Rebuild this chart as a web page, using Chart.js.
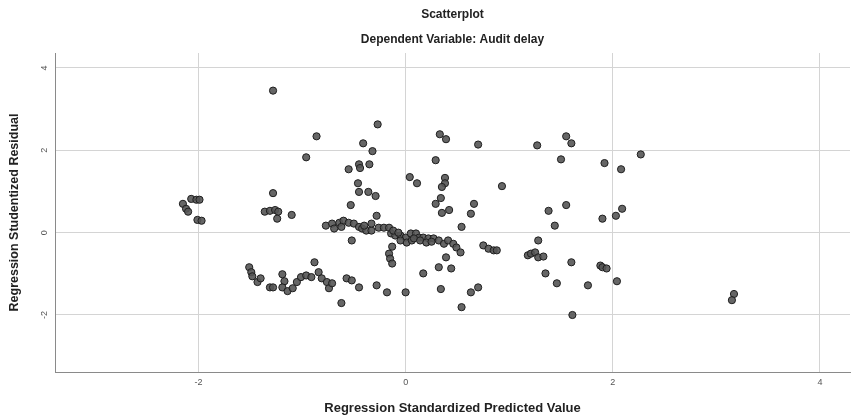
<!DOCTYPE html>
<html>
<head>
<meta charset="utf-8">
<script src="https://cdn.jsdelivr.net/npm/chart.js@4/dist/chart.umd.min.js"></script>
<style>
  html, body { margin: 0; padding: 0; background: #fff; }
  #wrap { width: 855px; height: 416px; }
</style>
</head>
<body>
<div id="wrap"><canvas id="scatter" width="855" height="416"></canvas></div>
<script>
// Regression Standardized Predicted Value (x)
const predicted = [
  -2.15, -2.12, -2.10, -2.07, -2.02, -1.99, -2.01, -1.97,
  -1.28, -1.28, -1.36, -1.31, -1.26, -1.23, -1.24, -1.10, -0.86, -0.96,
  -1.51, -1.49, -1.48, -1.43, -1.40, -1.31, -1.28, -1.19, -1.17, -1.19, -1.14, -1.09, -1.05, -1.01, -0.96,
  -0.91, -0.88, -0.84, -0.81, -0.76, -0.74, -0.71, -0.62, -0.57, -0.52, -0.45, -0.28, -0.18, 0.00,
  0.17, 0.32, 0.44, 0.34, 0.39, 0.54, 0.63, 0.70,
  -0.77, -0.71, -0.69, -0.64, -0.60, -0.55, -0.50, -0.45, -0.42, -0.38, -0.33, -0.33, -0.26, -0.21, -0.16,
  -0.14, -0.10, -0.05, 0.00, 0.05, 0.10, 0.13, 0.17, 0.22, 0.27, 0.32, 0.37, 0.41, 0.46, 0.49, 0.53,
  0.01, 0.06, -0.05, -0.52, -0.28, -0.13, -0.16, -0.15, -0.13, 0.75, 0.80, 0.85, 0.88,
  -0.62, -0.40, -0.12, -0.07, 0.08, 0.14, 0.20, 0.25,
  -0.27, -0.41, -0.32, -0.55, -0.45, -0.44, -0.35, -0.46, -0.45, -0.36, -0.29, -0.53,
  0.33, 0.39, 0.70, 0.29, 0.04, 0.11, 0.38, 0.38, 0.35, 0.34, 0.29, 0.35, 0.42, 0.66, 0.63, 0.54, 0.93,
  1.27, 1.55, 1.60, 1.50, 1.92, 2.08, 2.27, 1.38, 1.55, 1.44, 1.90, 2.03, 2.09,
  1.18, 1.21, 1.25, 1.28, 1.33, 1.28, 1.35, 1.46, 1.60, 1.76, 1.61, 1.88, 1.90, 1.94, 2.04,
  3.17, 3.15
];

// Regression Studentized Residual (y)
const residual = [
  0.70, 0.58, 0.51, 0.82, 0.80, 0.80, 0.31, 0.29,
  3.45, 0.96, 0.51, 0.53, 0.55, 0.51, 0.34, 0.43, 2.34, 1.83,
  -0.84, -0.96, -1.06, -1.20, -1.11, -1.33, -1.33, -1.01, -1.18, -1.33, -1.42, -1.35, -1.20, -1.08, -1.04,
  -1.08, -0.72, -0.96, -1.11, -1.20, -1.35, -1.23, -1.71, -1.11, -1.16, -1.33, -1.28, -1.45, -1.45,
  -0.99, -0.84, -0.87, -1.37, -0.60, -1.81, -1.45, -1.33,
  0.17, 0.22, 0.10, 0.24, 0.29, 0.24, 0.22, 0.14, 0.10, 0.05, 0.05, 0.22, 0.12, 0.12, 0.12,
  -0.02, -0.07, -0.07, -0.12, -0.02, -0.02, -0.12, -0.12, -0.14, -0.14, -0.19, -0.27, -0.19, -0.27, -0.36, -0.48,
  -0.24, -0.19, -0.19, -0.19, 0.41, -0.34, -0.51, -0.63, -0.75, -0.31, -0.39, -0.43, -0.43,
  0.14, 0.17, 0.05, 0.00, -0.14, -0.19, -0.24, -0.22,
  2.63, 2.17, 1.98, 1.54, 1.66, 1.57, 1.66, 1.20, 0.99, 0.99, 0.89, 0.67,
  2.39, 2.27, 2.14, 1.76, 1.35, 1.20, 1.33, 1.20, 1.11, 0.84, 0.70, 0.48, 0.55, 0.70, 0.46, 0.14, 1.13,
  2.12, 2.34, 2.17, 1.78, 1.69, 1.54, 1.90, 0.53, 0.67, 0.17, 0.34, 0.41, 0.58,
  -0.55, -0.51, -0.48, -0.60, -0.58, -0.19, -0.99, -1.23, -0.72, -1.28, -2.00, -0.80, -0.84, -0.87, -1.18,
  -1.49, -1.64
];

const xTitle = "Regression Standardized Predicted Value";
const yTitle = "Regression Studentized Residual";
const chartTitle = "Scatterplot";
const chartSubtitle = "Dependent Variable: Audit delay";

const points = predicted.map((x, i) => ({ x: x, y: residual[i] }));

const font = "'Liberation Sans', Arial, sans-serif";

new Chart(document.getElementById("scatter").getContext("2d"), {
  type: "scatter",
  data: {
    datasets: [{
      data: points,
      pointRadius: 3.6,
      pointBorderWidth: 1,
      pointBackgroundColor: "rgba(85, 85, 85, 0.9)",
      pointBorderColor: "#1e1e1e"
    }]
  },
  options: {
    responsive: false,
    animation: false,
    layout: { padding: { right: 2 } },
    plugins: {
      legend: { display: false },
      tooltip: { enabled: false },
      title: {
        display: true,
        text: chartTitle,
        fullSize: false,
        color: "#222",
        font: { family: font, size: 12, weight: "bold" },
        padding: { top: 7, bottom: 0 }
      },
      subtitle: {
        display: true,
        text: chartSubtitle,
        fullSize: false,
        color: "#222",
        font: { family: font, size: 12, weight: "bold" },
        padding: { top: 11.4, bottom: 5.8 }
      }
    },
    scales: {
      x: {
        type: "linear",
        min: -3.385,
        max: 4.29,
        afterFit: (scale) => { scale.height = 44; },
        ticks: {
          stepSize: 2,
          includeBounds: false,
          padding: 5,
          color: "#555",
          font: { family: font, size: 9 }
        },
        grid: { color: "#d4d4d4", lineWidth: 1, drawTicks: false },
        border: { display: true, color: "#8a8a8a", width: 1 },
        title: {
          display: true,
          text: xTitle,
          color: "#222",
          font: { family: font, size: 13, weight: "bold" },
          padding: { top: 0, bottom: 0 }
        }
      },
      y: {
        type: "linear",
        min: -3.385,
        max: 4.364,
        afterFit: (scale) => { scale.width = 55; },
        ticks: {
          stepSize: 2,
          includeBounds: false,
          minRotation: 90,
          maxRotation: 90,
          crossAlign: "center",
          padding: 6,
          color: "#555",
          font: { family: font, size: 9 }
        },
        grid: { color: "#d4d4d4", lineWidth: 1, drawTicks: false },
        border: { display: true, color: "#8a8a8a", width: 1 },
        title: {
          display: true,
          text: yTitle,
          color: "#222",
          font: { family: font, size: 12.5, weight: "bold" },
          padding: { top: 7, bottom: 0 }
        }
      }
    }
  }
});
</script>
</body>
</html>
